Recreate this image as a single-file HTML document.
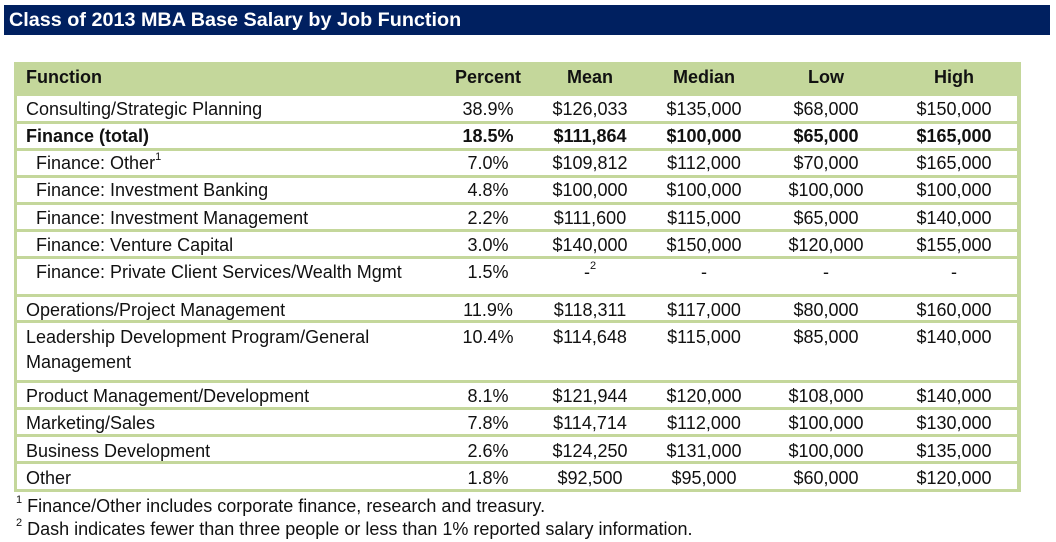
<!DOCTYPE html>
<html><head><meta charset="utf-8"><style>
body{margin:0;width:1056px;height:542px;background:#fff;position:relative;overflow:hidden;font-family:"Liberation Sans",sans-serif;color:#111;}
.t{position:absolute;left:4px;top:5px;width:1046px;height:30px;background:#002060;color:#fff;font-weight:bold;font-size:19.8px;line-height:30px;padding-left:5px;box-sizing:border-box;}
.g{position:absolute;left:14px;top:62px;width:1007px;height:430px;background:#c4d79b;}
.w{position:absolute;left:17px;width:1000px;background:#fff;}
.x{position:absolute;font-size:18px;line-height:20px;white-space:nowrap;}
.c{transform:translateX(-50%);}
.b{font-weight:bold;}
sup{font-size:11px;line-height:0;position:relative;top:-2px;}
</style></head><body>
<div class="t">Class of 2013 MBA Base Salary by Job Function</div>
<div class="g"></div>
<div class="w" style="top:96px;height:25px"></div>
<div class="w" style="top:124px;height:24px"></div>
<div class="w" style="top:151px;height:24px"></div>
<div class="w" style="top:178px;height:24px"></div>
<div class="w" style="top:205px;height:24px"></div>
<div class="w" style="top:232px;height:24px"></div>
<div class="w" style="top:259px;height:35px"></div>
<div class="w" style="top:297px;height:23px"></div>
<div class="w" style="top:323px;height:57px"></div>
<div class="w" style="top:383px;height:24px"></div>
<div class="w" style="top:410px;height:24px"></div>
<div class="w" style="top:437px;height:24px"></div>
<div class="w" style="top:464px;height:25px"></div>
<div id="rows"></div>
<script>
var R=[
[67,"Function","Percent","Mean","Median","Low","High",1,0],
[99,"Consulting/Strategic Planning","38.9%","$126,033","$135,000","$68,000","$150,000",0,0],
[126,"Finance (total)","18.5%","$111,864","$100,000","$65,000","$165,000",1,0],
[153,"Finance: Other<sup>1</sup>","7.0%","$109,812","$112,000","$70,000","$165,000",0,1],
[180,"Finance: Investment Banking","4.8%","$100,000","$100,000","$100,000","$100,000",0,1],
[208,"Finance: Investment Management","2.2%","$111,600","$115,000","$65,000","$140,000",0,1],
[235,"Finance: Venture Capital","3.0%","$140,000","$150,000","$120,000","$155,000",0,1],
[262,"Finance: Private Client Services/Wealth Mgmt","1.5%","-<sup>2</sup>","-","-","-",0,1],
[300,"Operations/Project Management","11.9%","$118,311","$117,000","$80,000","$160,000",0,0],
[327,"Leadership Development Program/General","10.4%","$114,648","$115,000","$85,000","$140,000",0,0],
[352,"Management","","","","","",0,0],
[386,"Product Management/Development","8.1%","$121,944","$120,000","$108,000","$140,000",0,0],
[413,"Marketing/Sales","7.8%","$114,714","$112,000","$100,000","$130,000",0,0],
[441,"Business Development","2.6%","$124,250","$131,000","$100,000","$135,000",0,0],
[468,"Other","1.8%","$92,500","$95,000","$60,000","$120,000",0,0]];
var X=[488,590,704,826,954],h="";
R.forEach(function(r){var b=r[7]?" b":"";
h+='<div class="x'+b+'" style="top:'+r[0]+'px;left:'+(r[8]?36:26)+'px">'+r[1]+'</div>';
for(var i=0;i<5;i++)if(r[i+2])h+='<div class="x c'+b+'" style="top:'+r[0]+'px;left:'+X[i]+'px">'+r[i+2]+'</div>';});
document.getElementById("rows").innerHTML=h;
</script>
<div class="x" style="top:496px;left:16px;font-size:18px"><sup>1</sup> Finance/Other includes corporate finance, research and treasury.</div>
<div class="x" style="top:519px;left:16px;font-size:18px"><sup>2</sup> Dash indicates fewer than three people or less than 1% reported salary information.</div>
</body></html>
